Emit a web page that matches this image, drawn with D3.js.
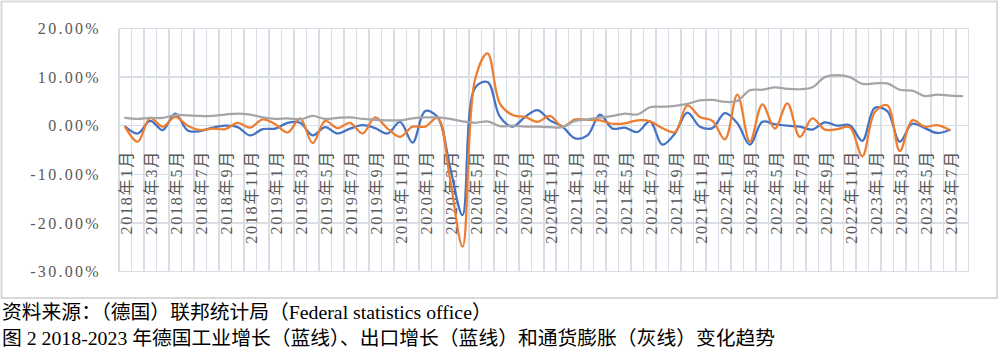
<!DOCTYPE html>
<html>
<meta charset="utf-8">
<style>

body {
  margin: 0;
  background: #fff;
}

svg {
  display: block;
}

.frame {
  fill: none;
  stroke: #d9d9d9;
  stroke-width: 2px;
}

.grid line {
  stroke: #d9dde6;
  stroke-width: 1.5px;
  shape-rendering: crispEdges;
}

.ylabel,
.xlabel {
  font-family: "Liberation Serif", "Noto Sans CJK SC", serif;
  font-size: 16px;
  fill: #595959;
}

.series {
  fill: none;
  stroke-width: 2.25px;
  stroke-linejoin: round;
  stroke-linecap: round;
}

.note {
  font-family: "Liberation Serif", "Noto Sans CJK SC", serif;
  font-size: 19.8px;
  fill: #000;
}

</style>
<body>
<script src="https://cdn.jsdelivr.net/npm/d3@7"></script>
<script>

// categories: 2018-01 .. 2023-08 (the last month only has inflation)
var years = [2018, 2019, 2020, 2021, 2022, 2023];
var lastMonth = 8;

var months = [];
years.forEach(function(yr) {
  for (var m = 1; m <= 12; m++) {
    if (yr === 2023 && m > lastMonth) break;
    months.push(yr + "年" + m + "月");
  }
});

// industrial production, month on month %
var industry = [
  -0.2, -1.6, 1.0, -0.9, 2.5, -1.0, -1.1, -0.4, 0.0, -0.3, -2.0, -0.7,
  -0.6, 0.6, 0.6, -2.0, -0.3, -1.6, -0.6, 0.1, -0.5, -1.6, 0.8, -3.5,
  3.0, 1.8, -8.5, -18.4, 7.8, 9.0, 1.8, -0.2, 1.8, 3.2, 1.1, -0.2,
  -2.6, -2.0, 2.3, -0.6, -0.4, -1.3, 0.9, -3.9, -1.6, 2.7, -0.2, -0.5,
  2.6, 0.5, -3.9, 0.8, 0.3, 0.0, -0.2, -0.8, 0.7, 0.0, 0.1, -3.1,
  3.7, 3.0, -3.3, 0.4, -0.5, -1.5, -0.9, null
];

// exports, month on month %
var exportsGrowth = [
  -0.3, -3.3, 1.6, -0.2, 1.8, 0.0, -0.9, -0.6, -0.7, 0.6, -0.4, 1.3,
  0.3, -1.4, 1.5, -3.6, 1.0, -0.5, 0.6, -1.6, 1.7, -0.6, -2.3, -0.2,
  -0.2, 1.6, -11.0, -24.9, 9.5, 14.9, 4.5, 2.2, 1.8, 0.8, 2.0, -0.2,
  1.3, 1.2, 1.1, 0.4, 0.5, 1.1, 0.9, -0.5, -1.3, 4.2, 1.8, 1.0,
  -2.8, 6.4, -3.3, 4.4, -0.6, 4.6, -2.3, 1.5, -0.8, -0.7, -0.3, -6.3,
  2.8, 4.2, -5.2, 1.1, -0.2, 0.1, -0.9, null
];

// consumer price inflation, year on year %
var inflation = [
  1.6, 1.4, 1.6, 1.6, 2.2, 2.1, 2.0, 2.0, 2.3, 2.5, 2.3, 1.7,
  1.4, 1.5, 1.3, 2.0, 1.4, 1.6, 1.7, 1.4, 1.2, 1.1, 1.1, 1.5,
  1.7, 1.7, 1.4, 0.9, 0.6, 0.9, -0.1, 0.0, -0.2, -0.2, -0.3, -0.3,
  1.0, 1.3, 1.7, 2.0, 2.5, 2.3, 3.8, 3.9, 4.1, 4.5, 5.2, 5.3,
  4.9, 5.1, 7.3, 7.4, 7.9, 7.6, 7.5, 7.9, 10.0, 10.4, 10.0, 8.6,
  8.7, 8.7, 7.4, 7.2, 6.1, 6.4, 6.2, 6.1
];

var yTicks = [-30, -20, -10, 0, 10, 20];

var sourceText = "资料来源：（德国）联邦统计局（Federal statistics office）";
var captionText = "图 2 2018-2023 年德国工业增长（蓝线）、出口增长（蓝线）和通货膨胀（灰线）变化趋势";

var width = 1000,
    height = 355,
    plot = {left: 119, right: 968.5, top: 28.5, bottom: 271.5};

var svg = d3.select("body").append("svg")
    .attr("width", width)
    .attr("height", height);

svg.append("rect")
    .attr("class", "frame")
    .attr("x", 1.5)
    .attr("y", 1.5)
    .attr("width", 995.5)
    .attr("height", 296.5);

var x = d3.scaleBand()
    .domain(months)
    .range([plot.left, plot.right]);

var y = d3.scaleLinear()
    .domain([-30, 20])
    .range([plot.bottom, plot.top]);

var bw = x.bandwidth();

// grid
var grid = svg.append("g").attr("class", "grid");

grid.selectAll(".h")
    .data(yTicks)
  .enter().append("line")
    .attr("x1", plot.left)
    .attr("x2", plot.right)
    .attr("y1", function(d) { return y(d); })
    .attr("y2", function(d) { return y(d); });

grid.selectAll(".v")
    .data(months.concat(["end"]))
  .enter().append("line")
    .attr("x1", function(d) { return d === "end" ? plot.right : x(d); })
    .attr("x2", function(d) { return d === "end" ? plot.right : x(d); })
    .attr("y1", plot.top)
    .attr("y2", plot.bottom);

// y labels
svg.selectAll(".ylabel")
    .data(yTicks)
  .enter().append("text")
    .attr("class", "ylabel")
    .attr("x", 101)
    .attr("y", function(d) { return y(d); })
    .attr("dy", "0.35em")
    .attr("text-anchor", "end")
    .style("letter-spacing", "2.3px")
    .text(function(d) { return d.toFixed(2) + "%"; });

// x labels, every second month
svg.selectAll(".xlabel")
    .data(months.filter(function(d, i) { return i % 2 === 0; }))
  .enter().append("text")
    .attr("class", "xlabel")
    .attr("transform", function(d) {
      return "translate(" + (x(d) + bw / 2 + 1.5) + ",150) rotate(-90)";
    })
    .attr("dy", "0.35em")
    .attr("text-anchor", "end")
    .style("letter-spacing", "1.8px")
    .text(function(d) { return d; });

// lines
var line = d3.line()
    .defined(function(d) { return d != null; })
    .x(function(d, i) { return x(months[i]) + bw / 2; })
    .y(function(d) { return y(d); })
    .curve(d3.curveCatmullRom);

var series = [
  {values: industry, color: "#4472c4"},
  {values: exportsGrowth, color: "#ed7d31"},
  {values: inflation, color: "#a5a5a5"}
];

svg.selectAll(".series")
    .data(series)
  .enter().append("path")
    .attr("class", "series")
    .attr("stroke", function(d) { return d.color; })
    .attr("d", function(d) { return line(d.values); });

// notes under the chart
svg.append("text")
    .attr("class", "note")
    .attr("x", 2)
    .attr("y", 319)
    .text(sourceText);

svg.append("text")
    .attr("class", "note")
    .attr("x", 2)
    .attr("y", 345)
    .text(captionText);

</script>
</body>
</html>
